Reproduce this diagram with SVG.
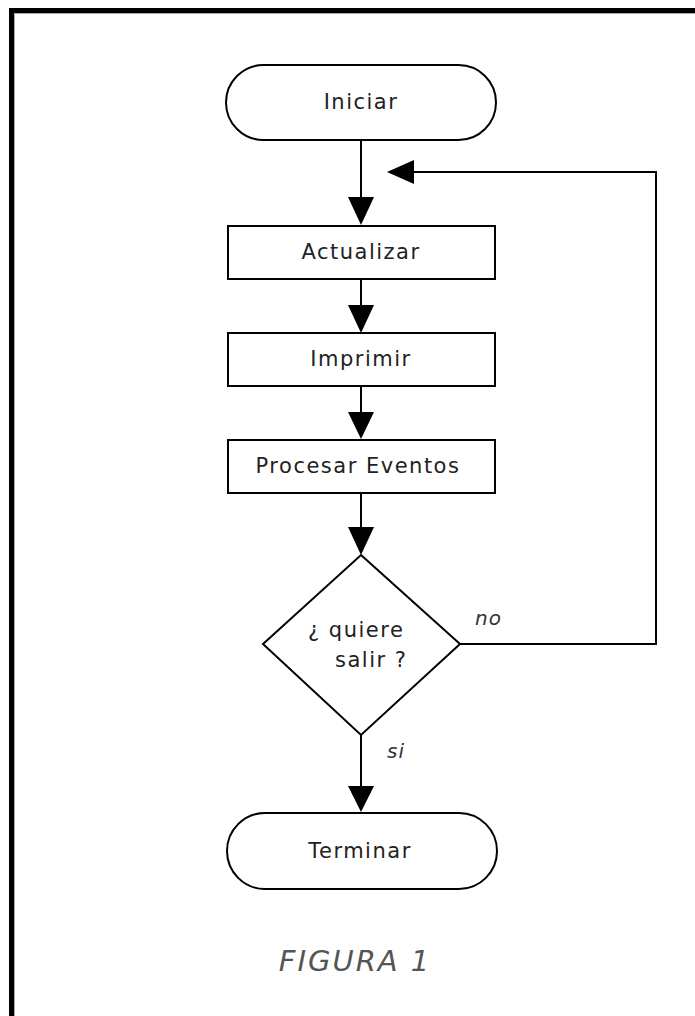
<svg xmlns="http://www.w3.org/2000/svg" width="695" height="1016" viewBox="0 0 695 1016">
  <defs>
    <style>
      .shape { fill: #ffffff; stroke: #000000; stroke-width: 2; }
      .conn { fill: none; stroke: #000000; stroke-width: 2; }
      .head { fill: #000000; stroke: none; }
      .lbl { font-family: "DejaVu Sans", Verdana, sans-serif; font-size: 21px; fill: #222222; letter-spacing: 1.5px; }
      .mid { text-anchor: middle; }
      .it { font-family: "DejaVu Sans", Verdana, sans-serif; font-size: 20px; font-style: italic; fill: #333333; letter-spacing: 1px; }
      .fig { font-family: "DejaVu Sans", Verdana, sans-serif; font-size: 29px; font-style: italic; fill: #555555; letter-spacing: 2px; text-anchor: middle; }
    </style>
  </defs>
  <rect x="0" y="0" width="695" height="1016" fill="#ffffff"/>
  <path d="M11.5,1016 V10.5 H695" fill="none" stroke="#000000" stroke-width="5"/>
  <path d="M14.5,1016 V13.5 H695" fill="none" stroke="#aaaaaa" stroke-width="1"/>

  <g id="connectors">
    <line class="conn" x1="361" y1="140" x2="361" y2="200"/>
    <polygon class="head" points="348,197 374,197 361,225"/>
    <line class="conn" x1="361" y1="279" x2="361" y2="308"/>
    <polygon class="head" points="348,305 374,305 361,333"/>
    <line class="conn" x1="361" y1="386" x2="361" y2="414"/>
    <polygon class="head" points="348,412 374,412 361,439"/>
    <line class="conn" x1="361" y1="493" x2="361" y2="530"/>
    <polygon class="head" points="348,527 374,527 361,555"/>
    <line class="conn" x1="361" y1="735" x2="361" y2="790"/>
    <polygon class="head" points="348,786 374,786 361,812"/>
    <polyline class="conn" points="460,644 656,644 656,172 410,172"/>
    <polygon class="head" points="414,160 414,184 387,172"/>
  </g>

  <g id="node-iniciar">
    <rect class="shape" x="226" y="65" width="270" height="75" rx="37.5" ry="37.5"/>
    <text class="lbl mid" x="361" y="109">Iniciar</text>
  </g>
  <g id="node-actualizar">
    <rect class="shape" x="228" y="226" width="267" height="53"/>
    <text class="lbl mid" x="361" y="259">Actualizar</text>
  </g>
  <g id="node-imprimir">
    <rect class="shape" x="228" y="333" width="267" height="53"/>
    <text class="lbl mid" x="361" y="366">Imprimir</text>
  </g>
  <g id="node-procesar">
    <rect class="shape" x="228" y="440" width="267" height="53"/>
    <text class="lbl mid" x="358" y="473">Procesar Eventos</text>
  </g>
  <g id="node-decision">
    <polygon class="shape" points="361,555 460,644 361,735 263,644"/>
    <text class="lbl" x="308" y="637">¿ quiere</text>
    <text class="lbl" x="335" y="667">salir ?</text>
  </g>
  <g id="node-terminar">
    <rect class="shape" x="227" y="813" width="270" height="76" rx="38" ry="38"/>
    <text class="lbl mid" x="360" y="858">Terminar</text>
  </g>

  <g id="labels">
    <text class="it" x="475" y="625">no</text>
    <text class="it" x="387" y="758">si</text>
    <text class="fig" x="355" y="971">FIGURA 1</text>
  </g>
</svg>
